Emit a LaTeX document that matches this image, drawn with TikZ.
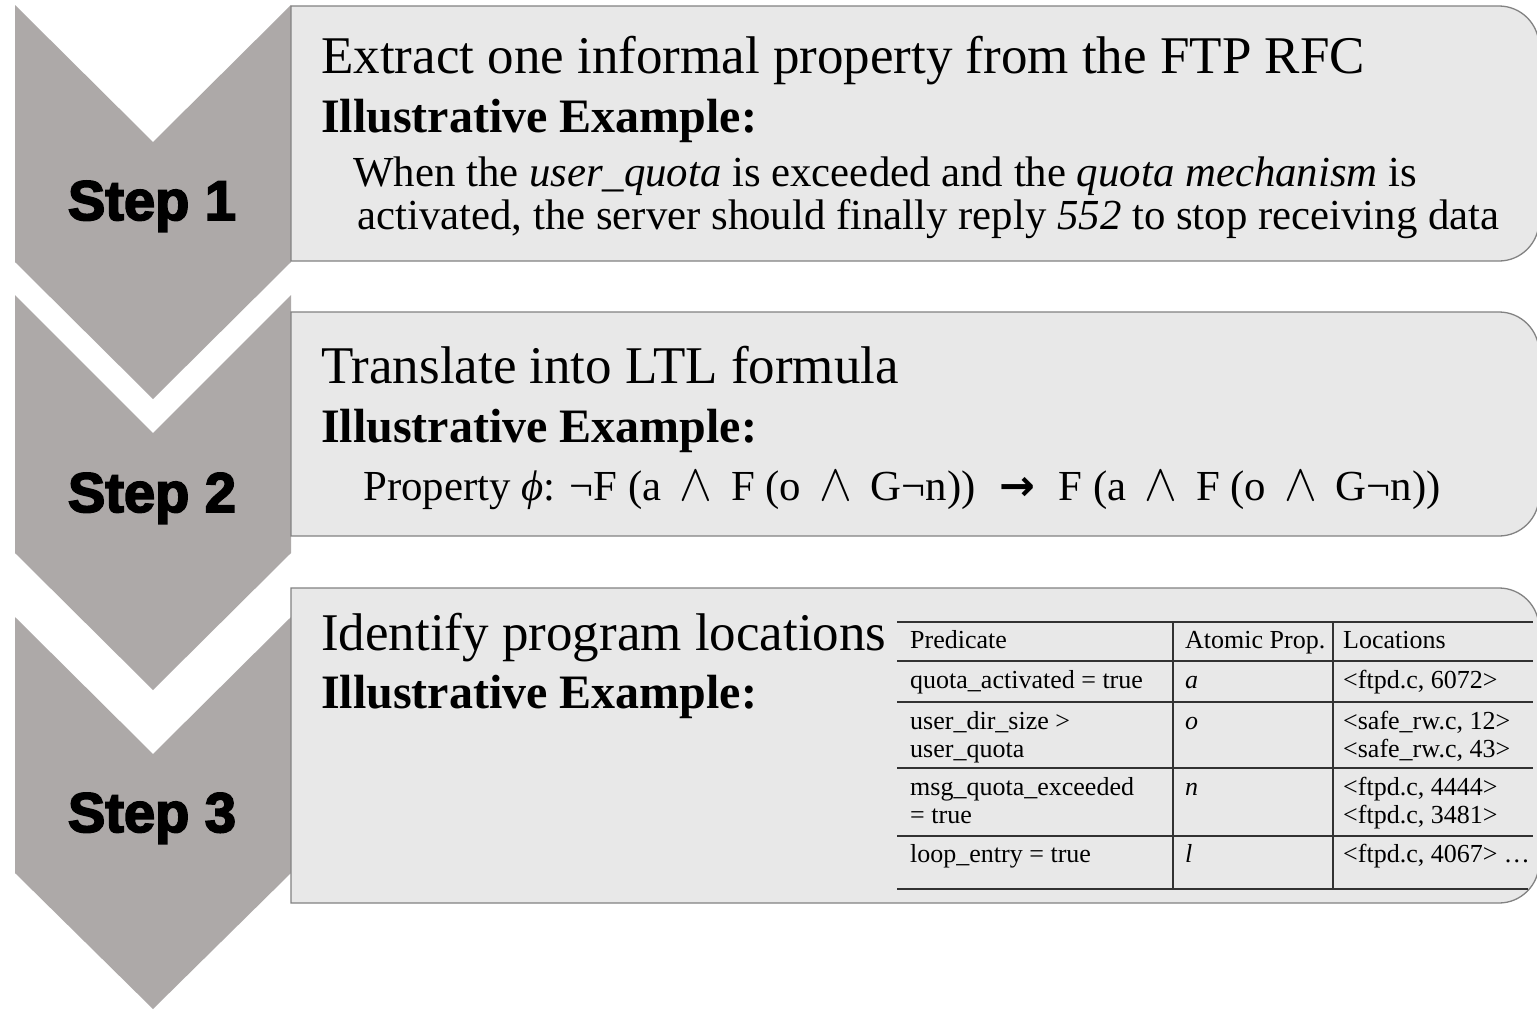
\RequirePackage{fix-cm}
\documentclass[tikz,border=0pt]{standalone}
\usepackage{fontspec}
\usepackage{graphicx}
\setmainfont{Liberation Serif}
\newfontfamily\stepfont{Liberation Sans}[BoldFeatures={FakeBold=3.2}]
\newfontfamily\symfont{DejaVu Sans}
\definecolor{chev}{RGB}{173,169,168}
\definecolor{boxfill}{RGB}{232,232,232}
\definecolor{boxline}{RGB}{130,130,130}
\definecolor{tabline}{RGB}{50,50,50}
\newcommand{\wdg}{\hspace{0.18em}\scalebox{1.15}[1.22]{$\wedge$}\hspace{0.18em}}
\newcommand{\thickarrow}{{\symfont\bfseries →}}
\tikzset{
  chevron/.style={fill=chev, draw=none},
  stepbox/.style={fill=boxfill, draw=boxline, line width=1.3pt},
  steplabel/.style={anchor=base, inner sep=0pt, font=\stepfont\bfseries\fontsize{56}{62}\selectfont},
  titletext/.style={anchor=base west, inner sep=0pt, font=\fontsize{53}{60}\selectfont},
  extext/.style={anchor=base west, inner sep=0pt, font=\bfseries\fontsize{48}{56}\selectfont},
  bodytext/.style={anchor=base west, inner sep=0pt, font=\fontsize{42.8}{50}\selectfont},
  celltext/.style={anchor=base west, inner sep=0pt, font=\fontsize{26}{29}\selectfont},
  tabrule/.style={draw=tabline, line width=1.2pt}
}
\begin{document}
\begin{tikzpicture}[x=1pt,y=-1pt]
\useasboundingbox (0,0) rectangle (1537,1010);
\fill[white] (0,0) rectangle (1537,1010);

% chevrons
\path[chevron] (15,5) -- (153,142) -- (291,5) -- (291,262) -- (153,399) -- (15,262) -- cycle;
\path[chevron] (15,295) -- (153,433) -- (291,295) -- (291,553) -- (153,690) -- (15,553) -- cycle;
\path[chevron] (15,617) -- (153,754) -- (291,617) -- (291,873) -- (153,1009) -- (15,873) -- cycle;

% boxes (right corners rounded)
\path[stepbox] (291,6) -- (1499,6) .. controls (1521,6) and (1539,24) .. (1539,46)
  -- (1539,221) .. controls (1539,243) and (1521,261) .. (1499,261) -- (291,261) -- cycle;
\path[stepbox] (291,312) -- (1499,312) .. controls (1521,312) and (1539,330) .. (1539,352)
  -- (1539,496) .. controls (1539,518) and (1521,536) .. (1499,536) -- (291,536) -- cycle;
\path[stepbox] (291,588) -- (1499,588) .. controls (1521,588) and (1539,606) .. (1539,628)
  -- (1539,863) .. controls (1539,885) and (1521,903) .. (1499,903) -- (291,903) -- cycle;

% step labels
\node[steplabel] (step1) at (152,220) {Step 1};
\node[steplabel] (step2) at (152,512) {Step 2};
\node[steplabel] (step3) at (152,832) {Step 3};

% box 1
\node[titletext] (title1) at (321,73) {Extract one informal property from the FTP RFC};
\node[extext] (ex1) at (321,132) {Illustrative Example:};
\node[bodytext] (body1a) at (353,186) {When the \textit{user\_quota} is exceeded and the \textit{quota mechanism} is};
\node[bodytext] (body1b) at (357,229) {activated, the server should finally reply \textit{552} to stop receiving data};

% box 2
\node[titletext] (title2) at (321,383) {Translate into LTL formula};
\node[extext] (ex2) at (321,442) {Illustrative Example:};
\node[bodytext] (formula) at (363,500) {Property \textit{ϕ}: ¬F (a \wdg{} F (o \wdg{} G¬n))\hspace{0.55em}\thickarrow\hspace{0.55em}F (a \wdg{} F (o \wdg{} G¬n))};

% box 3
\node[titletext] (title3) at (321,650) {Identify program locations};
\node[extext] (ex3) at (321,708) {Illustrative Example:};

% table rules
\foreach \yy/\xe/\nm in {622/1533/r0,661/1533/r1,702/1533/r2,768/1533/r3,836/1533/r4,889/1528/r5}{
  \coordinate (\nm a) at (897,\yy);
  \coordinate (\nm b) at (\xe,\yy);
  \draw[tabrule] (\nm a) -- (\nm b);
}
\coordinate (c1t) at (1173,622); \coordinate (c1b) at (1173,889);
\coordinate (c2t) at (1333,622); \coordinate (c2b) at (1333,889);
\draw[tabrule] (c1t) -- (c1b);
\draw[tabrule] (c2t) -- (c2b);

% table text
\node[celltext] (h1) at (910,648) {Predicate};
\node[celltext] (h2) at (1185,648) {Atomic Prop.};
\node[celltext] (h3) at (1343,648) {Locations};

\node[celltext] (p1) at (910,688) {quota\_activated = true};
\node[celltext] (a1) at (1185,688) {\textit{a}};
\node[celltext] (l1) at (1343,688) {<ftpd.c, 6072>};

\node[celltext] (p2a) at (910,729) {user\_dir\_size >};
\node[celltext] (p2b) at (910,757) {user\_quota};
\node[celltext] (a2) at (1185,729) {\textit{o}};
\node[celltext] (l2a) at (1343,729) {<safe\_rw.c, 12>};
\node[celltext] (l2b) at (1343,757) {<safe\_rw.c, 43>};

\node[celltext] (p3a) at (910,795) {msg\_quota\_exceeded};
\node[celltext] (p3b) at (910,823) {= true};
\node[celltext] (a3) at (1185,795) {\textit{n}};
\node[celltext] (l3a) at (1343,795) {<ftpd.c, 4444>};
\node[celltext] (l3b) at (1343,823) {<ftpd.c, 3481>};

\node[celltext] (p4) at (910,862) {loop\_entry = true};
\node[celltext] (a4) at (1185,862) {\textit{l}};
\node[celltext] (l4) at (1343,862) {<ftpd.c, 4067> …};
\end{tikzpicture}
\end{document}
